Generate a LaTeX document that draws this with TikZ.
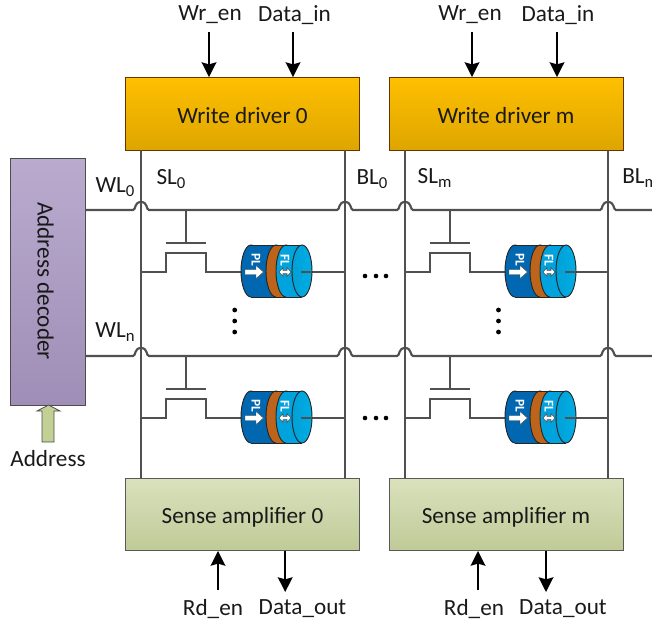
\documentclass[tikz,border=0pt]{standalone}
\usepackage{fontspec}
\setmainfont{Carlito}
\usetikzlibrary{arrows.meta,calc}
\definecolor{wire}{HTML}{505050}
\definecolor{plblue}{HTML}{0067B0}
\definecolor{flblue}{HTML}{00A3DE}
\definecolor{capblue}{HTML}{00AEE6}
\definecolor{capleft}{HTML}{00A0D6}
\definecolor{barrier}{HTML}{BC641C}
\definecolor{sensetop}{HTML}{DAE1BD}
\definecolor{sensebot}{HTML}{BFCA97}
\definecolor{drvtop}{HTML}{FFC000}
\definecolor{drvbot}{HTML}{DDA500}
\definecolor{dectop}{HTML}{B9ABCE}
\definecolor{decbot}{HTML}{9F8EB7}
\definecolor{arrowfill}{HTML}{C3D095}
\newcommand{\lowr}[1]{\raisebox{-0.2em}{\scalebox{0.72}{#1}}}
\tikzset{
  wireline/.style={draw=wire,line width=1.6pt},
  blockbox/.style={draw=#1,line width=0.75pt,inner sep=0pt,outer sep=0pt,font=\fontsize{17.4}{20}\selectfont,text=black!90},
  drv/.style={blockbox=black!60!orange,minimum width=175.5pt,minimum height=55pt,top color=drvtop,bottom color=drvbot,text height=15pt,text depth=0pt},
  sen/.style={blockbox=black!65,minimum width=175.5pt,minimum height=54.4pt,top color=sensetop,bottom color=sensebot,text height=13pt,text depth=0pt},
  dec/.style={blockbox=black!70,minimum width=56.25pt,minimum height=185.25pt,top color=dectop,bottom color=decbot},
  lab/.style={inner sep=0pt,font=\fontsize{17.4}{20}\selectfont,text=black!90},
  sig/.style={draw=black,line width=1.6pt,-{Stealth[length=11pt,width=11pt,inset=1.5pt]}},
  cyl/.style={draw=black!85,line width=0.7pt},
  mtjtext/.style={rotate=-90,inner sep=0pt,text=white,font=\fontsize{10}{10}\selectfont\bfseries},
}
\newcommand{\cell}[2]{%
\begin{scope}[shift={(#1,#2)}]
  \coordinate (g1) at (45,0);
  \coordinate (g2) at (45,33);
  \draw[wireline] (g1) -- (g2);
  \draw[wireline] (25,33) -- (65,33);
  \draw[wireline] (0,62) -- (25,62) -- (25,43) -- (65,43) -- (65,62) -- (102,62);
  \draw[wireline] (160,62) -- (204,62);
  \draw[cyl,fill=plblue] (110,61) ellipse [x radius=10,y radius=26];
  \fill[plblue] (110,35.3) rectangle (135,86.7);
  \draw[cyl,fill=barrier] (135,61) ellipse [x radius=10,y radius=26];
  \fill[barrier] (135,35.3) rectangle (145,86.7);
  \draw[cyl,fill=flblue] (145,61) ellipse [x radius=10,y radius=26];
  \fill[flblue] (145,35.3) rectangle (161,86.7);
  \draw[cyl] (110,35) -- (161,35) (110,87) -- (161,87);
  \draw[cyl,left color=capleft,right color=capblue] (161,61) ellipse [x radius=10,y radius=26];
  \draw[wireline] (160,62) -- (171,62);
  \node[mtjtext] at (115,50) {PL};
  \node[mtjtext] at (144,50) {FL};
  \draw[fill=white,draw=black!70,line width=0.3pt] (104,59.5) -- (115,59.5) -- (115,55.5) -- (122.5,62) -- (115,68.5) -- (115,64.5) -- (104,64.5) -- cycle;
  \draw[fill=white,draw=black!70,line width=0.4pt] (138,62) -- (142,57.5) -- (142,60.3) -- (146,60.3) -- (146,57.5) -- (150,62) -- (146,66.5) -- (146,63.7) -- (142,63.7) -- (142,66.5) -- cycle;
\end{scope}}
\newcommand{\hop}[1]{ -- ++(#1,0) .. controls +(3,0) and +(-7,0) .. ++(8,-8) .. controls +(7,0) and +(-3,0) .. ++(8,8)}
\begin{document}
\begin{tikzpicture}[x=0.75pt,y=-0.75pt]
\useasboundingbox (0,0) rectangle (652,622);

\node[drv] (wd0) at (242.5,113.7) {Write driver 0};
\node[drv] (wdm) at (506,113.7) {Write driver m};
\node[sen] (sa0) at (242.5,514.7) {Sense amplifier 0};
\node[sen] (sam) at (506,514.7) {Sense amplifier m};
\node[dec] (dec) at (48.2,281.5) {};
\node[rotate=-90,inner sep=0pt,font=\fontsize{17.4}{20}\selectfont,text=black!90] (dectext) at (45.5,281) {Address decoder};

\foreach \nm/\xx in {a/141,b/345,c/405,d/608}{
  \draw[wireline] (wd0.south -| \xx,0) -- (sa0.north -| \xx,0);
}

\draw[wireline] (dec.east |- 0,210) \hop{47.3} \hop{188} \hop{44} \hop{187} -- (652,210);
\draw[wireline] (dec.east |- 0,356) \hop{47.3} \hop{188} \hop{44} \hop{187} -- (652,356);

\cell{141}{210}
\cell{405}{210}
\cell{141}{356}
\cell{405}{356}

\foreach \yy in {276,418}{
  \foreach \xx in {365,376,386}{ \fill (\xx,\yy) circle (2.3); }
}
\foreach \yy in {310,321,332}{
  \fill (234.7,\yy) circle (2.4);
  \fill (498.5,\yy) circle (2.4);
}

\node[lab] (w0) at (210,15) {Wr\_en};
\node[lab] (d0) at (294.5,15) {Data\_in};
\node[lab] (wm) at (470,15) {Wr\_en};
\node[lab] (dm) at (558,15) {Data\_in};
\draw[sig] (209,32) -- (wd0.north -| 209,0);
\draw[sig] (293,32) -- (wd0.north -| 293,0);
\draw[sig] (472,32) -- (wdm.north -| 472,0);
\draw[sig] (557,32) -- (wdm.north -| 557,0);

\node[lab] (r0) at (213,608.5) {Rd\_en};
\node[lab] (o0) at (302.5,608.5) {Data\_out};
\node[lab] (rm) at (474,608.5) {Rd\_en};
\node[lab] (om) at (563,608.5) {Data\_out};
\draw[sig] (218,590) -- (sa0.south -| 218,0);
\draw[sig] (sa0.south -| 285.2,0) -- (285.2,592);
\draw[sig] (478,590) -- (sam.south -| 478,0);
\draw[sig] (sam.south -| 546,0) -- (546,592);

\node[lab] (wl0) at (115,187) {WL\lowr{0}};
\node[lab] (wln) at (115,332) {WL\lowr{n}};
\node[lab] (sl0) at (171,179) {SL\lowr{0}};
\node[lab] (bl0) at (372,179) {BL\lowr{0}};
\node[lab] (slm) at (434.5,178) {SL\lowr{m}};
\node[lab,anchor=west] (blm) at (622,178) {BL\lowr{m}};

\node[lab] (addr) at (48,459) {Address};
\draw[draw=black!70,line width=0.6pt,fill=arrowfill] (48.5,405) -- (60,411) -- (54,411) -- (54,442) -- (42,442) -- (42,411) -- (37,411) -- cycle;
\end{tikzpicture}
\end{document}
